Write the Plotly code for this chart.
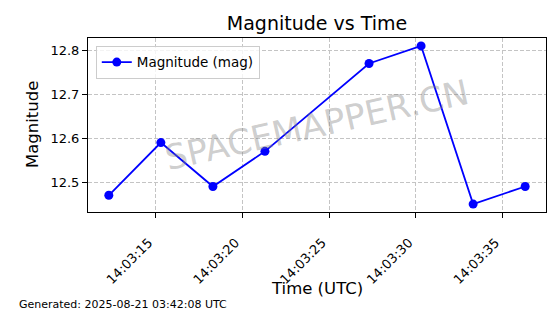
import plotly.graph_objects as go
import pandas as pd

# Data
times = ["2025-08-20 14:03:12.3", "2025-08-20 14:03:15.3", "2025-08-20 14:03:18.3",
         "2025-08-20 14:03:21.3", "2025-08-20 14:03:27.3", "2025-08-20 14:03:30.3",
         "2025-08-20 14:03:33.3", "2025-08-20 14:03:36.3"]
magnitudes = [12.47, 12.59, 12.49, 12.57, 12.77, 12.81, 12.45, 12.49]
x_ticks = ["2025-08-20 14:03:15", "2025-08-20 14:03:20", "2025-08-20 14:03:25",
           "2025-08-20 14:03:30", "2025-08-20 14:03:35"]
y_ticks = [12.5, 12.6, 12.7, 12.8]
title_text = "Magnitude vs Time"
footer_text = "Generated: 2025-08-21 03:42:08 UTC"
watermark = "SPACEMAPPER.CN"

FONT = "DejaVu Sans"

t = pd.to_datetime(times)
tmin, tmax = t.min(), t.max()
pad = (tmax - tmin) * 0.05
x_range = [tmin - pad, tmax + pad]
ymin, ymax = min(magnitudes), max(magnitudes)
ypad = (ymax - ymin) * 0.05
y_range = [ymin - ypad, ymax + ypad]

fig = go.Figure()
fig.add_trace(go.Scatter(
    x=t, y=magnitudes, mode="lines+markers", name="Magnitude (mag)",
    line=dict(color="#0000ff", width=1.8),
    marker=dict(color="#0000ff", size=9),
))

W, H = 560, 314
ml, mr, mt, mb = 88, 14, 38, 102

fig.update_layout(
    width=W, height=H,
    margin=dict(l=ml, r=mr, t=mt, b=mb, pad=0),
    paper_bgcolor="white", plot_bgcolor="white",
    font=dict(family=FONT, color="black", size=13),
    title=dict(text=title_text, font=dict(size=19, family=FONT, color="black"),
               x=(ml + (W - mr)) / 2 / W, xanchor="center",
               y=1 - 23.5 / H, yanchor="middle", yref="container"),
    showlegend=True,
    legend=dict(x=0.017, y=0.955, xanchor="left", yanchor="top",
                bgcolor="rgba(255,255,255,0.8)", bordercolor="#cccccc", borderwidth=1,
                font=dict(size=13.5, family=FONT, color="black")),
)

grid_style = dict(showgrid=True, gridcolor="#c4c4c4", gridwidth=0.8, griddash="4px,2px")

fig.update_xaxes(
    type="date", range=x_range, tickvals=pd.to_datetime(x_ticks), tickformat="%H:%M:%S",
    tickangle=-45, tickfont=dict(size=13, family=FONT, color="black"),
    ticklabelshift=-7, ticklabelstandoff=12,
    showline=True, linecolor="black", linewidth=1, mirror=True,
    ticks="outside", ticklen=5, tickcolor="black", tickwidth=1,
    zeroline=False, **grid_style,
)
fig.update_yaxes(
    range=y_range, tickvals=y_ticks, tickformat=".1f",
    tickfont=dict(size=13, family=FONT, color="black"),
    showline=True, linecolor="black", linewidth=1, mirror=True,
    ticks="outside", ticklen=5, tickcolor="black", tickwidth=1,
    zeroline=False, **grid_style,
)

# Axis titles, footer, watermark
fig.add_annotation(text="Time (UTC)", xref="paper", yref="paper", x=0.5, y=-(288 - (H - mb)) / (H - mt - mb),
                   xanchor="center", yanchor="middle", showarrow=False,
                   font=dict(size=16.5, family=FONT, color="black"))
fig.add_annotation(text="Magnitude", xref="paper", yref="paper", x=-(ml - 32) / (W - ml - mr), y=0.5,
                   xanchor="center", yanchor="middle", showarrow=False, textangle=-90,
                   font=dict(size=16.5, family=FONT, color="black"))
fig.add_annotation(text=footer_text, xref="paper", yref="paper",
                   x=-(ml - 16.5) / (W - ml - mr), y=-(304 - (H - mb)) / (H - mt - mb),
                   xanchor="left", yanchor="middle", showarrow=False,
                   font=dict(size=11, family=FONT, color="black"))
fig.add_annotation(text=watermark, xref="paper", yref="paper", x=0.5, y=0.5,
                   xanchor="center", yanchor="middle", showarrow=False, textangle=-12.5,
                   font=dict(size=34.5, family=FONT, color="rgba(128,128,128,0.4)"))

fig.write_html("out.html")
